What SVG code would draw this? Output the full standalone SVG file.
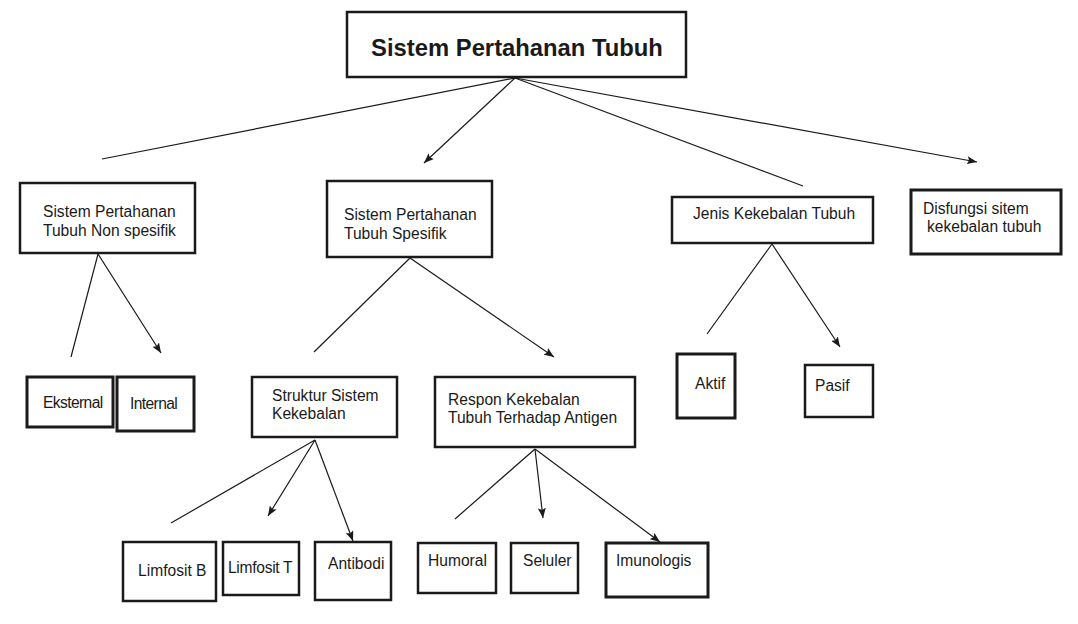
<svg xmlns="http://www.w3.org/2000/svg" width="1078" height="624" viewBox="0 0 1078 624">
<defs>
<style>
.box{fill:#fff;stroke:#1a1a1a;stroke-width:2.5}
.thick{stroke-width:3}
text{font-family:"Liberation Sans",Arial,sans-serif;font-size:15.6px;fill:#1a1a1a}
.title{font-size:23.8px;font-weight:bold}
.ln{stroke:#1a1a1a;stroke-width:1.2;fill:none}
.ar{marker-end:url(#ah)}
</style>
<marker id="ah" viewBox="0 0 10 8" refX="10" refY="4" markerWidth="10" markerHeight="8" markerUnits="userSpaceOnUse" orient="auto">
<path d="M0,0 L10,4 L0,8 L2,4 Z" fill="#1a1a1a"/>
</marker>
</defs>
<rect width="1078" height="624" fill="#fff"/>
<g id="connectors">
<line class="ln" x1="515" y1="78" x2="102" y2="159"/>
<line class="ln ar" x1="515" y1="78" x2="424" y2="163"/>
<line class="ln" x1="515" y1="78" x2="803" y2="186"/>
<line class="ln ar" x1="515" y1="78" x2="977" y2="162"/>
<line class="ln" x1="98" y1="254" x2="71" y2="357"/>
<line class="ln ar" x1="98" y1="254" x2="161" y2="353"/>
<line class="ln" x1="410" y1="258" x2="314" y2="352"/>
<line class="ln ar" x1="410" y1="258" x2="554" y2="357"/>
<line class="ln" x1="315" y1="440" x2="171" y2="523"/>
<line class="ln ar" x1="315" y1="440" x2="268" y2="516"/>
<line class="ln ar" x1="315" y1="440" x2="353" y2="541"/>
<line class="ln" x1="535" y1="449" x2="455" y2="519"/>
<line class="ln ar" x1="535" y1="449" x2="543" y2="518"/>
<line class="ln ar" x1="535" y1="449" x2="660" y2="542"/>
<line class="ln" x1="772" y1="244" x2="707" y2="334"/>
<line class="ln ar" x1="772" y1="244" x2="840" y2="347"/>
</g>
<g id="root"><rect class="box" x="347" y="12" width="339" height="65"/><text class="title" x="517" y="56" text-anchor="middle">Sistem Pertahanan Tubuh</text></g>
<g id="nonspesifik"><rect class="box" x="20" y="183" width="175" height="70"/><text x="43" y="217">Sistem Pertahanan</text><text x="43" y="236">Tubuh Non spesifik</text></g>
<g id="spesifik"><rect class="box" x="327" y="181" width="165" height="76"/><text x="344" y="220">Sistem Pertahanan</text><text x="344" y="239">Tubuh Spesifik</text></g>
<g id="jenis"><rect class="box" x="672" y="197" width="201" height="46"/><text x="693" y="219">Jenis Kekebalan Tubuh</text></g>
<g id="disfungsi"><rect class="box thick" x="911" y="190" width="150" height="64"/><text x="923" y="214">Disfungsi sitem</text><text x="927" y="232">kekebalan tubuh</text></g>
<g id="eksternal"><rect class="box thick" x="27" y="377" width="86" height="50"/><text x="43" y="408" letter-spacing="-0.6">Eksternal</text></g>
<g id="internal"><rect class="box thick" x="117" y="377" width="77" height="54"/><text x="130" y="409" letter-spacing="-0.6">Internal</text></g>
<g id="struktur"><rect class="box" x="252" y="377" width="145" height="60"/><text x="272" y="401">Struktur Sistem</text><text x="272" y="419">Kekebalan</text></g>
<g id="respon"><rect class="box" x="435" y="377" width="200" height="70"/><text x="448" y="405">Respon Kekebalan</text><text x="448" y="423">Tubuh Terhadap Antigen</text></g>
<g id="aktif"><rect class="box thick" x="677" y="354" width="58" height="64"/><text x="695" y="389">Aktif</text></g>
<g id="pasif"><rect class="box" x="805" y="365" width="68" height="52"/><text x="815" y="391">Pasif</text></g>
<g id="limfositb"><rect class="box" x="123" y="542" width="93" height="59"/><text x="138" y="576">Limfosit B</text></g>
<g id="limfosit_t"><rect class="box" x="223" y="542" width="76" height="53"/><text x="228" y="573" letter-spacing="-0.3">Limfosit T</text></g>
<g id="antibodi"><rect class="box" x="315" y="542" width="76" height="58"/><text x="328" y="569">Antibodi</text></g>
<g id="humoral"><rect class="box" x="418" y="543" width="78" height="50"/><text x="428" y="566">Humoral</text></g>
<g id="seluler"><rect class="box" x="511" y="543" width="67" height="50"/><text x="523" y="566">Seluler</text></g>
<g id="imunologis"><rect class="box thick" x="606" y="543" width="102" height="54"/><text x="616" y="566">Imunologis</text></g>
</svg>
